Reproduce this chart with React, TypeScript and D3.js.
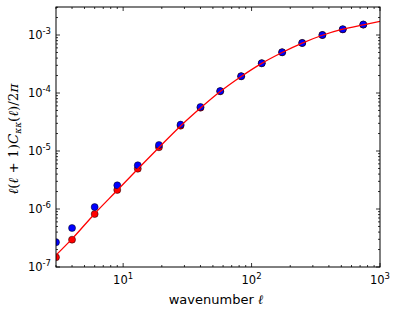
import React from "react";
import * as d3 from "d3";

// binned multipoles and measured spectra
const ells = [3, 4, 6, 9, 13, 19, 28, 40, 57, 83, 120, 173, 248, 356, 513, 741];
const redCl = [1.47e-7, 2.96e-7, 8.2e-7, 2.13e-6, 4.95e-6, 1.16e-5, 2.73e-5, 5.58e-5, 1.07e-4, 1.94e-4, 3.25e-4, 5.03e-4, 7.28e-4, 1.0e-3, 1.25e-3, 1.51e-3];
const blueCl = [2.67e-7, 4.7e-7, 1.08e-6, 2.56e-6, 5.67e-6, 1.27e-5, 2.85e-5, 5.75e-5, 1.08e-4, 1.95e-4, 3.27e-4, 5.05e-4, 7.3e-4, 1.0e-3, 1.26e-3, 1.52e-3];

// theory curve
const theoryEll = [3, 4, 6, 9, 13, 19, 28, 40, 57, 83, 120, 173, 248, 356, 513, 741, 1000];
const theoryCl = [1.6e-7, 3.05e-7, 8.3e-7, 2.1e-6, 4.9e-6, 1.15e-5, 2.7e-5, 5.5e-5, 1.06e-4, 1.93e-4, 3.25e-4, 5.0e-4, 7.25e-4, 9.9e-4, 1.26e-3, 1.5e-3, 1.72e-3];

const xMajor = [1, 2, 3];
const yMajor = [-7, -6, -5, -4, -3];

const W = 399;
const H = 318;
const M = { left: 56, right: 380, top: 7, bottom: 267 };

const font = "DejaVu Sans, sans-serif";
const mathFont = "DejaVu Serif, serif";

export default function App() {
  const x = d3.scaleLog().domain([3, 1000]).range([M.left, M.right]);
  const y = d3.scaleLog().domain([1e-7, 3.04e-3]).range([M.bottom, M.top]);

  const xMinor: number[] = [];
  for (let e = 0; e <= 3; e++) {
    for (let k = 2; k <= 9; k++) {
      const v = k * Math.pow(10, e);
      if (v >= 3 && v <= 1000) xMinor.push(v);
    }
  }
  const yMinor: number[] = [];
  for (let e = -7; e <= -3; e++) {
    for (let k = 2; k <= 9; k++) {
      const v = k * Math.pow(10, e);
      if (v >= 1e-7 && v <= 3.04e-3) yMinor.push(v);
    }
  }

  const line = d3
    .line<number>()
    .x((d, i) => x(theoryEll[i]))
    .y((d) => y(d))
    .curve(d3.curveMonotoneX);

  const majLen = 4;
  const minLen = 2;

  return (
    <svg width={W} height={H} style={{ display: "block", position: "absolute", left: 0, top: 0 }}>
      <rect width={W} height={H} fill="#fff" />
      <defs>
        <clipPath id="plot">
          <rect x={M.left} y={M.top} width={M.right - M.left} height={M.bottom - M.top} />
        </clipPath>
      </defs>

      {/* ticks on all four sides, pointing inward */}
      <g stroke="#000" strokeWidth={0.8}>
        {xMinor.map((v) => (
          <g key={"xm" + v}>
            <line x1={x(v)} x2={x(v)} y1={M.bottom} y2={M.bottom - minLen} />
            <line x1={x(v)} x2={x(v)} y1={M.top} y2={M.top + minLen} />
          </g>
        ))}
        {xMajor.map((e) => (
          <g key={"xM" + e}>
            <line x1={x(Math.pow(10, e))} x2={x(Math.pow(10, e))} y1={M.bottom} y2={M.bottom - majLen} />
            <line x1={x(Math.pow(10, e))} x2={x(Math.pow(10, e))} y1={M.top} y2={M.top + majLen} />
          </g>
        ))}
        {yMinor.map((v) => (
          <g key={"ym" + v}>
            <line y1={y(v)} y2={y(v)} x1={M.left} x2={M.left + minLen} />
            <line y1={y(v)} y2={y(v)} x1={M.right} x2={M.right - minLen} />
          </g>
        ))}
        {yMajor.map((e) => (
          <g key={"yM" + e}>
            <line y1={y(Math.pow(10, e))} y2={y(Math.pow(10, e))} x1={M.left} x2={M.left + majLen} />
            <line y1={y(Math.pow(10, e))} y2={y(Math.pow(10, e))} x1={M.right} x2={M.right - majLen} />
          </g>
        ))}
      </g>

      <g clipPath="url(#plot)">
        {ells.map((l, i) => (
          <circle key={"r" + l} cx={x(l)} cy={y(redCl[i])} r={3.5} fill="#ff0000" stroke="#000" strokeWidth={0.5} />
        ))}
        {ells.map((l, i) => (
          <circle key={"b" + l} cx={x(l)} cy={y(blueCl[i])} r={3.5} fill="#0000ff" stroke="#000" strokeWidth={0.5} />
        ))}
        <path d={line(theoryCl) || ""} fill="none" stroke="#ff0000" strokeWidth={1.3} />
      </g>

      <rect
        x={M.left}
        y={M.top}
        width={M.right - M.left}
        height={M.bottom - M.top}
        fill="none"
        stroke="#000"
        strokeWidth={1}
      />

      {/* x tick labels */}
      {xMajor.map((e) => (
        <text key={"xl" + e} x={x(Math.pow(10, e))} y={283.5} fontFamily={font} fontSize={11.5} textAnchor="middle" fill="#000">
          10
          <tspan dy={-5} fontSize={8.5}>{e}</tspan>
        </text>
      ))}

      {/* y tick labels */}
      {yMajor.map((e) => (
        <text key={"yl" + e} x={51} y={y(Math.pow(10, e)) + 4} fontFamily={font} fontSize={11.5} textAnchor="end" fill="#000">
          10
          <tspan dy={-5} fontSize={8.5}>{"-" + -e}</tspan>
        </text>
      ))}

      <text x={216} y={303.5} fontFamily={font} fontSize={13} textAnchor="middle" fill="#000">
        wavenumber <tspan fontFamily={mathFont} fontStyle="italic">ℓ</tspan>
      </text>

      <text
        transform={`translate(18, ${(M.top + M.bottom) / 2 + 2}) rotate(-90)`}
        fontFamily={mathFont}
        fontSize={13.5}
        textAnchor="middle"
        fill="#000"
      >
        <tspan fontStyle="italic">ℓ</tspan>(<tspan fontStyle="italic">ℓ</tspan> + 1)<tspan fontStyle="italic">C</tspan>
        <tspan fontStyle="italic" fontSize={9} dy={3}>κκ</tspan>
        <tspan dy={-3}>(</tspan><tspan fontStyle="italic">ℓ</tspan>)/2<tspan fontStyle="italic">π</tspan>
      </text>
    </svg>
  );
}
